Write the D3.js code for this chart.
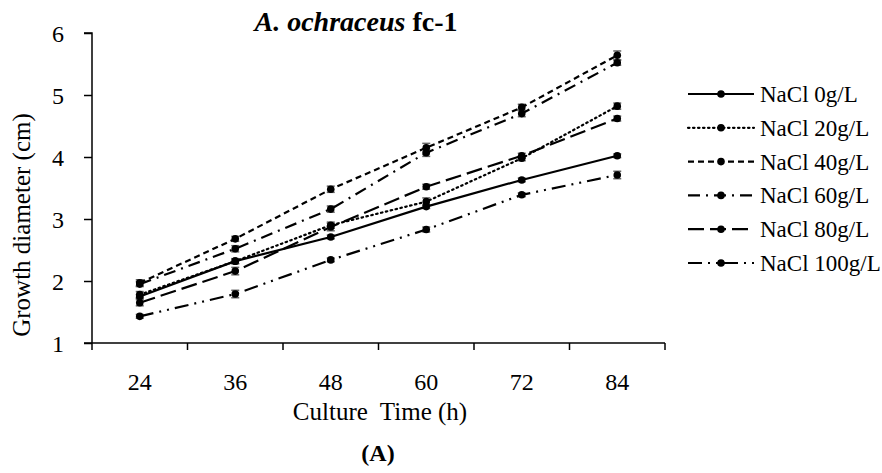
<!DOCTYPE html>
<html>
<head>
<meta charset="utf-8">
<script src="https://cdn.jsdelivr.net/npm/d3@7"></script>
<style>
  body { margin: 0; background: #fff; }
  svg text { font-family: "Liberation Serif", "Times New Roman", serif; fill: #000; }
</style>
</head>
<body>
<svg id="chart" width="882" height="473"></svg>
<script>
// culture time categories (h)
let hours = ['24', '36', '48', '60', '72', '84']
let seriesNames = ['NaCl 0g/L', 'NaCl 20g/L', 'NaCl 40g/L', 'NaCl 60g/L', 'NaCl 80g/L', 'NaCl 100g/L']

let nacl0   = [1.75, 2.32, 2.71, 3.20, 3.63, 4.02]
let nacl20  = [1.78, 2.32, 2.90, 3.28, 3.98, 4.82]
let nacl40  = [1.97, 2.68, 3.48, 4.15, 4.80, 5.64]
let nacl60  = [1.95, 2.52, 3.16, 4.07, 4.70, 5.52]
let nacl80  = [1.65, 2.16, 2.87, 3.52, 4.02, 4.62]
let nacl100 = [1.43, 1.79, 2.34, 2.83, 3.39, 3.71]

let err0   = [0.03, 0.04, 0.03, 0.03, 0.03, 0.03]
let err20  = [0.05, 0.04, 0.05, 0.06, 0.04, 0.05]
let err40  = [0.05, 0.04, 0.05, 0.07, 0.05, 0.07]
let err60  = [0.04, 0.05, 0.05, 0.06, 0.05, 0.04]
let err80  = [0.05, 0.06, 0.06, 0.04, 0.04, 0.04]
let err100 = [0.03, 0.06, 0.03, 0.04, 0.03, 0.06]

let yTicks = [1, 2, 3, 4, 5, 6]

function main() {
  let values = [nacl0, nacl20, nacl40, nacl60, nacl80, nacl100]
  let errs = [err0, err20, err40, err60, err80, err100]
  let dashes = ['none', '1.5,3.5', '6,4', '12,6,2,6', '16,6', '14,6,2,6,2,6']
  let caps = ['butt', 'round', 'butt', 'butt', 'butt', 'butt']

  let svg = d3.select('#chart')
  let margin = {left: 92, right: 217, top: 33, bottom: 130}
  let W = 882, H = 473

  let x = d3.scaleBand().domain(hours).range([margin.left, W - margin.right]).padding(0)
  let y = d3.scaleLinear().domain([1, 6]).range([H - margin.bottom, margin.top])

  // y axis
  let yAxis = svg.append('g')
    .attr('transform', `translate(${margin.left},0)`)
    .call(d3.axisLeft(y).tickValues(yTicks).tickSize(8).tickPadding(20).tickFormat(d3.format('d')))
  yAxis.select('.domain').attr('stroke', '#000').attr('stroke-width', 1.5).attr('d', `M-8,${y(6)}H0V${y(1)}`)
  yAxis.selectAll('.tick line').attr('stroke', '#000').attr('stroke-width', 1.5)
  yAxis.selectAll('.tick text').style('font-size', '24px').attr('dy', '0.35em')

  // x axis, ticks between categories like excel
  let xAxis = svg.append('g')
    .attr('transform', `translate(0,${y(1)})`)
    .call(d3.axisBottom(x).tickSize(0).tickPadding(0))
  xAxis.select('.domain').attr('stroke', '#000').attr('stroke-width', 1.5).attr('d', `M${margin.left - 8},0H${W - margin.right}`)
  xAxis.selectAll('.tick text').style('font-size', '24px').attr('dy', null).attr('y', 47)
  xAxis.selectAll('.bound')
    .data(d3.range(hours.length + 1))
    .enter().append('line')
    .attr('x1', i => x.range()[0] + i * x.step())
    .attr('x2', i => x.range()[0] + i * x.step())
    .attr('y1', 0).attr('y2', 7)
    .attr('stroke', '#000').attr('stroke-width', 1.5)

  let cx = d => x(d) + x.bandwidth() / 2

  // error bars
  values.forEach(function(vals, s) {
    let g = svg.append('g').attr('class', 'err')
    vals.forEach(function(v, i) {
      let px = cx(hours[i]), e = errs[s][i]
      g.append('line').attr('x1', px).attr('x2', px).attr('y1', y(v - e)).attr('y2', y(v + e))
        .attr('stroke', '#666').attr('stroke-width', 1.5)
      ;[v - e, v + e].forEach(function(t) {
        g.append('line').attr('x1', px - 4).attr('x2', px + 4).attr('y1', y(t)).attr('y2', y(t))
          .attr('stroke', '#666').attr('stroke-width', 1.5)
      })
    })
  })

  let line = d3.line().x((d, i) => cx(hours[i])).y(d => y(d))

  values.forEach(function(vals, s) {
    svg.append('path')
      .datum(vals)
      .attr('d', line)
      .attr('fill', 'none')
      .attr('stroke', '#000')
      .attr('stroke-width', 2.2)
      .attr('stroke-linecap', caps[s])
      .attr('stroke-dasharray', dashes[s])
    svg.selectAll('.pt' + s)
      .data(vals)
      .enter().append('circle')
      .attr('cx', (d, i) => cx(hours[i]))
      .attr('cy', d => y(d))
      .attr('r', 3.8)
      .attr('fill', '#000')
  })

  // title
  let title = svg.append('text')
    .attr('x', 356)
    .attr('y', 31)
    .attr('text-anchor', 'middle')
    .style('font-size', '28px')
    .style('font-weight', 'bold')
  title.append('tspan').style('font-style', 'italic').text('A. ochraceus')
  title.append('tspan').text(' fc-1')

  // axis titles
  svg.append('text')
    .attr('x', 380)
    .attr('y', 420)
    .attr('text-anchor', 'middle')
    .style('font-size', '25px')
    .style('white-space', 'pre')
    .text('Culture  Time (h)')

  svg.append('text')
    .attr('transform', 'translate(30,225) rotate(-90)')
    .attr('text-anchor', 'middle')
    .style('font-size', '25px')
    .text('Growth diameter (cm)')

  svg.append('text')
    .attr('x', 378)
    .attr('y', 461)
    .attr('text-anchor', 'middle')
    .style('font-size', '24px')
    .style('font-weight', 'bold')
    .text('(A)')

  // legend
  let legend = svg.append('g').attr('transform', 'translate(688,94)')
  seriesNames.forEach(function(name, s) {
    let row = legend.append('g').attr('transform', `translate(0,${s * 33.8})`)
    row.append('line').attr('x1', 0).attr('x2', 66).attr('y1', 0).attr('y2', 0)
      .attr('stroke', '#000').attr('stroke-width', 2.2)
      .attr('stroke-linecap', caps[s])
      .attr('stroke-dasharray', dashes[s])
    row.append('circle').attr('cx', 33).attr('cy', 0).attr('r', 3.8).attr('fill', '#000')
    row.append('text').attr('x', 72).attr('y', 0).attr('dy', '0.35em')
      .style('font-size', '23px').text(name)
  })
}

main()
</script>
</body>
</html>
